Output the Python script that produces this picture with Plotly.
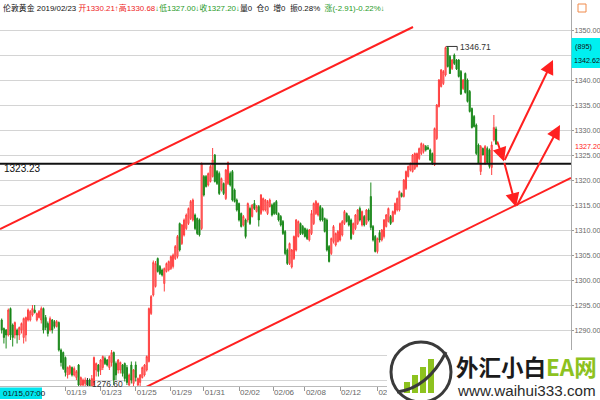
import plotly.graph_objects as go

# ---------------- data (3-hour candles) ----------------
opens = [
 1292, 1290.3, 1290, 1289, 1294.3, 1291, 1289, 1290, 1289, 1290,
 1288.5, 1289, 1292, 1292, 1293, 1294, 1292, 1292.5, 1292, 1294.3,
 1292.5, 1291.3, 1290, 1292, 1291.7, 1290.7, 1291.5, 1286, 1285.5, 1284.5,
 1281, 1281.3, 1282.5, 1281, 1280.5, 1283, 1279, 1279, 1279.3, 1280,
 1280, 1278.5, 1279, 1282, 1283, 1282, 1282.5, 1284.3, 1284, 1282.5,
 1283.5, 1285.5, 1283.3, 1282, 1282, 1283, 1283.3, 1282.5, 1279, 1283,
 1279.3, 1283, 1279, 1279.5, 1280.5, 1281, 1282, 1283.7, 1293.3,
 1297, 1298.7, 1304.3, 1302.7, 1302, 1299.3, 1301.7, 1302, 1302.3, 1302.7, 1304.3,
 1304.7, 1311.3, 1307.3, 1309, 1310.3, 1311.3, 1312.3, 1312, 1313, 1312.3,
 1312, 1310.3, 1320.7, 1320.7, 1319, 1319.7, 1320.7, 1325, 1321.7, 1321.3,
 1318, 1319.3, 1316.3, 1319.3, 1321.3, 1321.7, 1318, 1316, 1315.3, 1313.3, 1311, 1312,
 1312, 1314.3, 1312.7, 1315.3, 1313.7, 1314.7, 1313.3, 1314, 1314, 1313.3,
 1314.7, 1315, 1315.3, 1315.7, 1313.3, 1312.7, 1311.7, 1309.7, 1306, 1303.3,
 1302.6, 1304.3, 1306, 1308.7, 1311.3, 1310.7, 1310.3, 1310, 1308, 1309.3,
 1311.3, 1313.3, 1313, 1314.7, 1314.3, 1312.3, 1312, 1306.7, 1305.3, 1307.7,
 1307, 1307.7, 1308, 1309, 1311.3, 1313.3, 1312.7, 1312, 1309.3, 1310.3,
 1311.3, 1314.3, 1311, 1312.7, 1311.3, 1314, 1316.7, 1310.7, 1308.7, 1305.7,
 1309.5, 1308, 1308.7, 1310.7, 1311.7, 1312.7, 1311.7, 1313.3, 1314, 1314,
 1317.3, 1316.7, 1318.3, 1320.7, 1322, 1321.7, 1322.3, 1322.7, 1324.3, 1325.3,
 1325.7, 1326.7, 1326.5, 1326, 1325.3, 1323, 1328.3, 1334.7, 1338.7, 1339.3,
 1341, 1346.5, 1344.7, 1342.3, 1345, 1344, 1344, 1341.7, 1338.3, 1341.3,
 1340, 1337.7, 1334.3, 1332.7, 1331, 1327, 1321.7, 1326.3, 1323.3, 1326.3,
 1326, 1322.5, 1328, 1330.21,
]
highs = [
 1292.3, 1290.5, 1290.2, 1294.3, 1294.5, 1291.3, 1291.7, 1290.3, 1290.7, 1291.5,
 1292.5, 1292.7, 1294.3, 1294, 1295, 1295, 1293.5, 1294, 1294.7, 1294.5,
 1293, 1291.7, 1292.7, 1292.2, 1292, 1292, 1291.7, 1286.3, 1285.7, 1284.7,
 1282.7, 1283, 1282.7, 1282.7, 1282, 1283.2, 1280.7, 1280.3, 1280.5, 1280.3,
 1280.3, 1281, 1284.7, 1283.5, 1283.2, 1284.2, 1284.9, 1284.7, 1284.2, 1284.9,
 1286, 1285.7, 1283.7, 1284.2, 1283.7, 1283.2, 1283.5, 1283, 1281.3, 1283.7,
 1282.2, 1283.7, 1280.5, 1281.2, 1282.7, 1283.2, 1284.9, 1294.5, 1297,
 1303.9, 1303.8, 1304.5, 1303, 1302.3, 1302.5, 1303.5, 1303.9, 1304.9, 1305.3, 1307,
 1309, 1311.5, 1311.2, 1312.3, 1313.3, 1314.5, 1316, 1316.3, 1313.3, 1312.5,
 1312.3, 1323.5, 1321, 1321, 1321.5, 1323, 1326.4, 1325.2, 1322, 1321.7,
 1320.5, 1319.5, 1322.2, 1323.7, 1321.7, 1322, 1318.3, 1316.3, 1315.5, 1313.5, 1313, 1312.3,
 1315.5, 1314.7, 1315.2, 1316, 1315, 1315, 1317.2, 1316.5, 1316.2, 1316,
 1316.3, 1315.3, 1315.6, 1316, 1313.5, 1313, 1312, 1310, 1306.3, 1307.5,
 1306.2, 1308.9, 1312.2, 1311.9, 1311.5, 1311, 1310.5, 1310.3, 1310.2, 1314,
 1315.5, 1316, 1315.5, 1315, 1314.5, 1312.5, 1312.3, 1307, 1308.5, 1311,
 1309.5, 1310, 1311.5, 1312, 1314, 1313.5, 1313, 1312.3, 1311.5, 1313.2,
 1314.2, 1314.7, 1313.9, 1313, 1314.2, 1314.3, 1319.5, 1311, 1309, 1308.5,
 1310, 1310.2, 1312.2, 1313.2, 1314.5, 1313, 1313.9, 1315.5, 1316.5, 1317.9,
 1317.5, 1320.2, 1321.9, 1322.9, 1323.5, 1325.2, 1325.5, 1325.5, 1326.5, 1327.5,
 1327.3, 1327, 1327, 1326.3, 1325.5, 1330.5, 1335.2, 1340.2, 1342.2, 1342,
 1346.71, 1346.71, 1345, 1344.2, 1345.3, 1344.2, 1344.2, 1342, 1340.2, 1341.5,
 1340.3, 1338, 1334.5, 1333, 1331.3, 1327.3, 1327, 1326.5, 1327, 1326.7,
 1326.3, 1327.7, 1333, 1330.68,
]
lows = [
 1289.3, 1287.3, 1286.3, 1288.7, 1288, 1286.7, 1288.3, 1287.3, 1288, 1289.3,
 1287.3, 1287.7, 1291.7, 1291.7, 1292.7, 1293.3, 1291.7, 1292.3, 1291.3, 1289.3,
 1290, 1288.7, 1289.7, 1289.3, 1290.3, 1290.5, 1285.7, 1282.7, 1282, 1280.7,
 1280.3, 1281, 1280.7, 1280.7, 1280, 1278, 1278.3, 1278.5, 1278.7, 1278.3,
 1276.6, 1278, 1278.3, 1280.7, 1280.7, 1281, 1282, 1283, 1282.7, 1282,
 1282.7, 1279, 1280, 1281.3, 1281.3, 1280.7, 1279.7, 1279, 1278.3, 1279.3,
 1278.7, 1279.7, 1278, 1278.7, 1280.3, 1280.7, 1281.7, 1283.5, 1293,
 1296.7, 1298.5, 1301.5, 1301, 1300.7, 1297.7, 1301.5, 1301.7, 1302, 1302.3, 1304,
 1304.3, 1305.7, 1307, 1308.7, 1310, 1311, 1312, 1311.7, 1310, 1309,
 1308.7, 1310, 1316.7, 1318.5, 1318.7, 1319.5, 1320.5, 1319.5, 1319, 1317,
 1317.7, 1317, 1316, 1319, 1318.7, 1315.7, 1315.5, 1313.7, 1311.7, 1310.5, 1310.7, 1308.3,
 1311.5, 1311, 1312.5, 1314, 1313.5, 1310.7, 1313, 1313.7, 1313.7, 1313,
 1314.5, 1312.7, 1313, 1313, 1311.7, 1310.7, 1309, 1305, 1303, 1303,
 1302.3, 1304, 1305.7, 1308.5, 1309, 1309, 1308.5, 1308, 1307.7, 1309,
 1311, 1313, 1312.7, 1311.7, 1311.7, 1309.5, 1305.7, 1303.5, 1305, 1307.3,
 1306.7, 1307.5, 1307.7, 1308.7, 1311, 1311.5, 1310.7, 1308, 1309, 1310,
 1311, 1311.7, 1310.7, 1310.7, 1311, 1311.7, 1310, 1307.7, 1305.5, 1305.3,
 1307.5, 1307.7, 1308.3, 1310.5, 1311.5, 1311, 1311.5, 1313, 1313.7, 1313.7,
 1316.5, 1316.5, 1318, 1320.5, 1321.7, 1321.5, 1322, 1322.5, 1324, 1325,
 1325.3, 1325.7, 1326, 1323.8, 1323, 1322.8, 1328, 1334.5, 1338.5, 1339,
 1340.7, 1342.5, 1341.2, 1342, 1343, 1342, 1340.5, 1337, 1338, 1337.3,
 1335.5, 1333.5, 1330.3, 1330.5, 1325, 1323.2, 1321, 1325, 1323, 1323.3,
 1322.3, 1321, 1327.7, 1327.00,
]
closes = [
 1290, 1288.5, 1289, 1294, 1289, 1288.5, 1291.5, 1289, 1290.5, 1291.3,
 1292.3, 1292.5, 1294, 1293.7, 1294.3, 1293.5, 1293.3, 1293.7, 1294.3, 1290,
 1290.5, 1289.3, 1292.3, 1290, 1290.7, 1291.7, 1286, 1283.5, 1282.3, 1281.5,
 1282.5, 1282.7, 1281, 1282.3, 1281.7, 1279, 1280.5, 1280, 1280, 1279,
 1278.3, 1280.3, 1284.5, 1283.3, 1281.7, 1284, 1284.7, 1283.3, 1283, 1284.7,
 1285.5, 1280, 1281, 1284, 1283.5, 1281.3, 1280.3, 1279.5, 1281, 1280,
 1282, 1280.5, 1280.3, 1281, 1282.5, 1283, 1284.7, 1294.3, 1296.7,
 1303.5, 1303.3, 1301.7, 1301.3, 1301, 1302.3, 1303.3, 1303.7, 1304.7, 1305, 1306.7,
 1308.7, 1306, 1311, 1312, 1313, 1314.3, 1315.7, 1316, 1310.3, 1309.3,
 1309, 1323.3, 1317, 1318.7, 1321.3, 1322.7, 1324, 1319.7, 1319.3, 1317.3,
 1320.3, 1317.3, 1322, 1323.5, 1319, 1316, 1315.7, 1314, 1312, 1310.7, 1312.7, 1308.7,
 1315.3, 1311.3, 1315, 1314.3, 1314.7, 1312, 1317, 1316.3, 1316, 1315.7,
 1316, 1313, 1313.3, 1313.3, 1312, 1311, 1309.3, 1305.3, 1303.3, 1307.3,
 1306, 1308.7, 1312, 1311.7, 1309.3, 1309.3, 1308.7, 1308.3, 1310, 1313.3,
 1315.3, 1315.7, 1315.3, 1312, 1312, 1309.7, 1306, 1303.7, 1308.3, 1310.7,
 1309.3, 1309.7, 1311.3, 1311.7, 1313.7, 1311.7, 1311, 1308.3, 1311.3, 1313,
 1314, 1312, 1313.7, 1311, 1314, 1312, 1310.5, 1308, 1305.7, 1308.3,
 1308, 1310, 1312, 1313, 1314.3, 1311.3, 1313.7, 1315.3, 1316.3, 1317.7,
 1316.7, 1320, 1321.7, 1322.7, 1323.3, 1325, 1325.3, 1325.3, 1326.3, 1327.3,
 1327, 1326, 1326.2, 1324, 1323.2, 1330.3, 1335, 1340, 1342, 1341.7,
 1346.5, 1342.7, 1341.3, 1344, 1343.3, 1342.2, 1340.7, 1337.2, 1340, 1337.5,
 1335.7, 1333.7, 1330.5, 1330.7, 1325.3, 1323.3, 1326.7, 1325, 1326.7, 1323.5,
 1322.7, 1327, 1330.5, 1327.20,
]

N = len(closes)
assert len(opens) == N and len(highs) == N and len(lows) == N, (len(opens), len(highs), len(lows), N)
bar_index = list(range(N))

date_tick_index = [29, 45, 61, 77, 92, 108, 123.5, 138, 154, 171]
date_tick_text = ["01/19", "01/23", "01/25", "01/29", "01/31",
                  "02/02", "02/06", "02/08", "02/12", "02/14"]

price_ticks = [1280, 1285, 1290, 1295, 1300, 1305, 1310, 1315, 1320,
               1325, 1330, 1335, 1340, 1345, 1350]
price_labels_hidden = [1280, 1285, 1345]

support_level = 1323.23
peak_value = 1346.71
low_value = 1276.60
last_price = 1327.20
# channel lines: (bar index, price)
upper_channel = [(-0.77, 1310.2), (187.2, 1350.6)]
lower_channel = [(62.95, 1278.0), (259.1, 1320.4)]
# forecast arrows: (from index, from price, to index, to price)
forecast_arrows = [
    (225.3, 1328.0, 228.6, 1323.7),
    (228.6, 1323.7, 250.9, 1344.0),
    (228.6, 1323.7, 234.1, 1314.6),
    (234.1, 1314.6, 254.1, 1331.0),
]

# ---------------- layout geometry ----------------
W, H = 600, 400
ML, MR, MT, MB = 0, 29, 0, 14
PW, PH = W - ML - MR, H - MT - MB
X_RANGE = [-0.774, 259.1]
Y_RANGE = [1278.8, 1356.0]


def xp(px):
    return (px - ML) / PW


def yp(py):
    return (PH + MT - py) / PH


RED = "#ff2020"
GREEN_TXT = "#1f9a1f"
NUM_FONT = "Liberation Sans, Arial, sans-serif"
CJK_FONT = "Noto Sans CJK SC, sans-serif"
MIX_FONT = "Liberation Sans, Noto Sans CJK SC, sans-serif"
AXIS_FONT_SIZE = 7.2

fig = go.Figure()
fig.add_trace(go.Candlestick(
    x=bar_index, open=opens, high=highs, low=lows, close=closes,
    increasing=dict(line=dict(color="#ff4040", width=1), fillcolor="#ff8a8a"),
    decreasing=dict(line=dict(color="#1d8a1d", width=1), fillcolor="#0b780b"),
    whiskerwidth=0, hoverinfo="skip", showlegend=False,
))

shapes = []
# support line
shapes.append(dict(type="line", xref="paper", yref="y", x0=0, x1=1,
                   y0=support_level, y1=support_level,
                   line=dict(color="#111", width=2), layer="above"))
# channel lines
for seg in (upper_channel, lower_channel):
    shapes.append(dict(type="line", xref="x", yref="y",
                       x0=seg[0][0], y0=seg[0][1], x1=seg[1][0], y1=seg[1][1],
                       line=dict(color=RED, width=2), layer="above"))
# peak marker
shapes.append(dict(type="line", xref="x", yref="y", x0=202.3, x1=207.3,
                   y0=peak_value, y1=peak_value, line=dict(color="#333", width=1)))
shapes.append(dict(type="line", xref="x", yref="y", x0=207.3, x1=207.3,
                   y0=peak_value, y1=peak_value - 0.8, line=dict(color="#333", width=1)))
# low marker tick
shapes.append(dict(type="line", xref="paper", yref="paper", x0=xp(87.5), x1=xp(87.5),
                   y0=yp(378), y1=yp(386), line=dict(color="#333", width=1)))
# cyan box on the right axis
shapes.append(dict(type="rect", xref="paper", yref="paper", x0=xp(571.5), x1=xp(600),
                   y0=yp(68), y1=yp(38), fillcolor="#00f0f0", line=dict(width=0), layer="above"))
# cyan date box bottom left
shapes.append(dict(type="rect", xref="paper", yref="paper", x0=xp(0), x1=xp(42),
                   y0=yp(399), y1=yp(387.5), fillcolor="#00e5ee", line=dict(width=0), layer="above"))
# small icon at top right
shapes.append(dict(type="rect", xref="paper", yref="paper", x0=xp(578), x1=xp(586),
                   y0=yp(12), y1=yp(4), line=dict(color="#f08a4b", width=1)))
# watermark logo
shapes.append(dict(type="rect", xref="paper", yref="paper", x0=xp(387), x1=xp(600),
                   y0=yp(400), y1=yp(350), fillcolor="white", line=dict(width=0), layer="above"))
shapes.append(dict(type="circle", xref="paper", yref="paper", x0=xp(391), x1=xp(451),
                   y0=yp(402), y1=yp(342), fillcolor="white",
                   line=dict(color="#3a3a3a", width=3), layer="above"))
for bx, top in ((404, 382), (412, 375), (420, 367), (428, 359)):
    shapes.append(dict(type="rect", xref="paper", yref="paper", x0=xp(bx), x1=xp(bx + 6),
                       y0=yp(393), y1=yp(top), fillcolor="#8dc21f", line=dict(width=0),
                       layer="above"))
shapes.append(dict(type="path", xref="paper", yref="paper",
                   path=f"M {xp(397)} {yp(392)} Q {xp(428)} {yp(388)} {xp(446)} {yp(352)}",
                   line=dict(color="#3a3a3a", width=3), layer="above"))

annotations = []
header = ('<span style="color:#111">伦敦黄金 2019/02/23 </span>'
          '<span style="color:#ee1c1c">开1330.21↑高1330.68</span>'
          f'<span style="color:{GREEN_TXT}">↓低1327.00↓收1327.20↓</span>'
          '<span style="color:#111">量0  仓0  增0  振0.28%  </span>'
          f'<span style="color:{GREEN_TXT}">涨(-2.91)-0.22%↓</span>')
annotations.append(dict(xref="paper", yref="paper", x=xp(1), y=yp(8.5), text=header,
                        showarrow=False, xanchor="left", yanchor="middle",
                        font=dict(size=7.9, family=MIX_FONT)))
annotations.append(dict(xref="paper", yref="paper", x=xp(2), y=yp(168), text="1323.23",
                        showarrow=False, xanchor="left", yanchor="middle",
                        font=dict(size=10, family=NUM_FONT, color="#111")))
annotations.append(dict(xref="x", yref="y", x=207.6, y=peak_value - 0.1, text="1346.71",
                        showarrow=False, xanchor="left", yanchor="middle",
                        font=dict(size=8.5, family=NUM_FONT, color="#333")))
annotations.append(dict(xref="paper", yref="paper", x=xp(90), y=yp(383.5), text="1276.60",
                        showarrow=False, xanchor="left", yanchor="middle",
                        font=dict(size=8.5, family=NUM_FONT, color="#333")))
annotations.append(dict(xref="paper", yref="paper", x=xp(573), y=yp(46.5), text="(895)",
                        showarrow=False, xanchor="left", yanchor="middle",
                        font=dict(size=AXIS_FONT_SIZE, family=NUM_FONT, color="#111")))
annotations.append(dict(xref="paper", yref="paper", x=xp(571.5), y=yp(60.5), text="1342.62",
                        showarrow=False, xanchor="left", yanchor="middle",
                        font=dict(size=AXIS_FONT_SIZE, family=NUM_FONT, color="#111")))
annotations.append(dict(xref="paper", yref="paper", x=xp(572.5), y=yp(146.5), text=f"{last_price:.2f}",
                        showarrow=False, xanchor="left", yanchor="middle",
                        font=dict(size=AXIS_FONT_SIZE, family=NUM_FONT, color=RED)))
annotations.append(dict(xref="paper", yref="paper", x=xp(0.5), y=yp(393.5), text="01/15,07:00",
                        showarrow=False, xanchor="left", yanchor="middle",
                        font=dict(size=8, family=NUM_FONT, color="#111")))
for x0, y0, x1, y1 in forecast_arrows:
    annotations.append(dict(xref="x", yref="y", axref="x", ayref="y",
                            x=x1, y=y1, ax=x0, ay=y0, text="", showarrow=True,
                            arrowhead=2, arrowsize=1.4, arrowwidth=2, arrowcolor=RED,
                            standoff=0, startstandoff=0))
annotations.append(dict(xref="paper", yref="paper", x=xp(454), y=yp(366),
                        text='<b><span style="color:#1b1b1b">外汇小白</span>'
                             '<span style="color:#8dc21f">EA网</span></b>',
                        showarrow=False, xanchor="left", yanchor="middle",
                        font=dict(size=22.5, family=CJK_FONT)))
annotations.append(dict(xref="paper", yref="paper", x=xp(455), y=yp(390.5),
                        text="www.waihui333.com", showarrow=False,
                        xanchor="left", yanchor="middle",
                        font=dict(size=15.2, family=NUM_FONT, color="#2a2a2a")))

fig.update_layout(
    width=W, height=H, autosize=False,
    margin=dict(l=ML, r=MR, t=MT, b=MB, pad=0, autoexpand=False),
    paper_bgcolor="white", plot_bgcolor="white",
    shapes=shapes, annotations=annotations,
    showlegend=False,
    xaxis=dict(
        range=X_RANGE, rangeslider=dict(visible=False), automargin=False,
        tickmode="array", tickvals=date_tick_index, ticktext=date_tick_text,
        ticks="outside", ticklen=4, tickcolor="#999", tickwidth=1,
        ticklabelshift=11, ticklabelstandoff=-6,
        tickfont=dict(size=8, family=NUM_FONT, color="#666"),
        showgrid=False, zeroline=False, showline=True, linecolor="#bbb", linewidth=1,
        fixedrange=True,
    ),
    yaxis=dict(
        range=Y_RANGE, side="right", automargin=False,
        tickmode="array", tickvals=price_ticks,
        ticktext=["" if v in price_labels_hidden else f"{v:.2f}" for v in price_ticks],
        ticks="outside", ticklen=2, tickcolor="#999", ticklabelstandoff=-1,
        tickfont=dict(size=AXIS_FONT_SIZE, family=NUM_FONT, color="#666"),
        showgrid=True, gridcolor="#d4d4d4", gridwidth=1,
        zeroline=False, showline=True, linecolor="#aaa", linewidth=1,
        fixedrange=True,
    ),
)

fig.write_html(
    "out.html",
    config={"displayModeBar": False, "staticPlot": True},
    post_script="document.body.style.margin='0';document.body.style.padding='0';"
                "document.documentElement.style.overflow='hidden';",
)
